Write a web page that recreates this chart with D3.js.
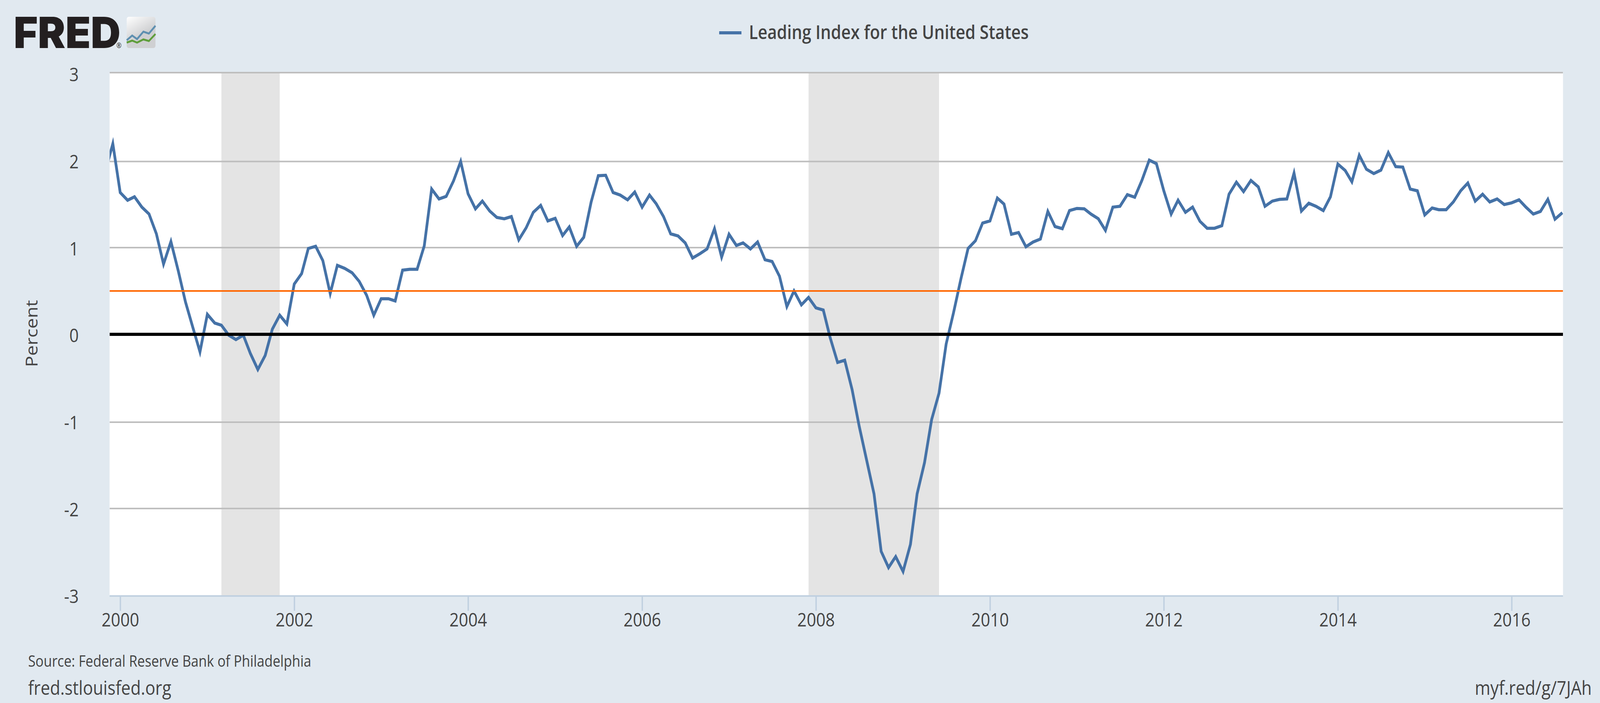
<!DOCTYPE html>
<html>
<head>
<meta charset="utf-8">
<title>Leading Index for the United States</title>
<script src="https://cdn.jsdelivr.net/npm/d3@7"></script>
<style>
  html, body { margin: 0; padding: 0; background: #e1e9f0; overflow: hidden; }
  svg { display: block; width: 100vw; height: 100vh; }
  text { font-family: "Open Sans", sans-serif; fill: #444; }
</style>
</head>
<body>
<div id="chart"></div>
<script>
// monthly values, Nov 1999 to Aug 2016
const firstMonth = new Date(Date.UTC(1999, 10, 1));
const leadingIndex = [
  1.9, 2.2, 1.64, 1.55, 1.59, 1.47, 1.39, 1.16, 0.81, 1.07, 0.73, 0.375, 0.08, -0.2,
  0.23, 0.13, 0.105, -0.01, -0.06, -0.01, -0.22, -0.4, -0.24, 0.06, 0.22, 0.12,
  0.58, 0.7, 0.99, 1.015, 0.85, 0.47, 0.795, 0.76, 0.71, 0.61, 0.45, 0.22,
  0.41, 0.41, 0.385, 0.74, 0.75, 0.75, 1.02, 1.68, 1.565, 1.595, 1.775, 2.0,
  1.625, 1.45, 1.54, 1.425, 1.35, 1.335, 1.36, 1.09, 1.23, 1.41, 1.49, 1.31,
  1.34, 1.14, 1.24, 1.015, 1.12, 1.53, 1.835, 1.84, 1.64, 1.61, 1.555, 1.645,
  1.47, 1.61, 1.51, 1.36, 1.16, 1.135, 1.055, 0.88, 0.93, 0.985, 1.22, 0.89,
  1.155, 1.025, 1.055, 0.985, 1.065, 0.86, 0.84, 0.67, 0.32, 0.5, 0.34, 0.425,
  0.305, 0.28, -0.04, -0.32, -0.295, -0.63, -1.05, -1.44, -1.83, -2.49, -2.675, -2.55,
  -2.72, -2.41, -1.83, -1.47, -0.97, -0.67, -0.11, 0.25, 0.64, 0.99, 1.08, 1.285,
  1.31, 1.575, 1.505, 1.155, 1.175, 1.01, 1.065, 1.1, 1.42, 1.245, 1.22, 1.43,
  1.455, 1.45, 1.39, 1.335, 1.2, 1.47, 1.48, 1.615, 1.585, 1.78, 2.015, 1.975,
  1.66, 1.39, 1.55, 1.41, 1.47, 1.305, 1.225, 1.225, 1.255, 1.62, 1.76, 1.65,
  1.78, 1.705, 1.48, 1.54, 1.56, 1.565, 1.865, 1.425, 1.515, 1.48, 1.43, 1.59,
  1.97, 1.895, 1.765, 2.07, 1.91, 1.86, 1.9, 2.1, 1.94, 1.935, 1.68, 1.66,
  1.38, 1.46, 1.44, 1.44, 1.53, 1.66, 1.75, 1.54, 1.62, 1.53, 1.565, 1.5,
  1.52, 1.555, 1.47, 1.39, 1.42, 1.56, 1.33, 1.405
];
const recessions = [
  [new Date(Date.UTC(2001, 2, 1)), new Date(Date.UTC(2001, 10, 1))],
  [new Date(Date.UTC(2007, 11, 1)), new Date(Date.UTC(2009, 5, 1))]
];
const yTicks = [-3, -2, -1, 0, 1, 2, 3];
const xTickYears = [2000, 2002, 2004, 2006, 2008, 2010, 2012, 2014, 2016];
const targetLevel = 0.5;
const zeroLevel = 0;

// logo sparkline heights
const logoBlue = [30, 24, 28.5, 19, 21.5, 11.5];
const logoGreen = [33, 30.5, 33, 29, 31, 22];
const logoSteps = [0, 0.19, 0.36, 0.58, 0.77, 1];

const width = 4672, height = 1800;
const plot = { left: 320, right: 4564, top: 186, bottom: 1526 };

// the browser window can come up narrower than 4672 (4096 in the sandbox),
// so the drawing is fitted to the window instead of running off its right edge
const svg = d3.select("#chart").append("svg")
  .attr("viewBox", `0 0 ${width} ${height}`)
  .attr("preserveAspectRatio", "none");

svg.append("rect").attr("width", width).attr("height", height).attr("fill", "#e1e9f0");

const defs = svg.append("defs");
defs.append("clipPath").attr("id", "plot-clip").append("rect")
  .attr("x", plot.left)
  .attr("y", plot.top - 2)
  .attr("width", plot.right - plot.left)
  .attr("height", plot.bottom - plot.top + 2);

const iconGrad = defs.append("linearGradient").attr("id", "icon-grad")
  .attr("x1", 0).attr("y1", 0).attr("x2", 0.5).attr("y2", 0.9);
iconGrad.append("stop").attr("offset", 0).attr("stop-color", "#ffffff");
iconGrad.append("stop").attr("offset", 0.75).attr("stop-color", "#cfd0d2");

const x = d3.scaleUtc()
  .domain([new Date(Date.UTC(2000, 0, 1)), new Date(Date.UTC(2016, 0, 1))])
  .range([351, 4414]);

// gridlines were snapped to whole pixels in the original, so the scale follows them
const y = d3.scaleLinear()
  .domain(yTicks)
  .range([1526, 1302, 1081, 856, 634, 413.5, 186]);

const yLabel = d3.scaleLinear().domain([-3, 3]).range([1526.7, 190.7]);

// plot area
svg.append("rect")
  .attr("x", plot.left)
  .attr("y", plot.top)
  .attr("width", plot.right - plot.left)
  .attr("height", plot.bottom - plot.top)
  .attr("fill", "#fff");

const plotArea = svg.append("g").attr("clip-path", "url(#plot-clip)");

plotArea.selectAll(".recession")
  .data(recessions)
  .join("rect")
  .attr("class", "recession")
  .attr("x", d => x(d[0]))
  .attr("width", d => x(d[1]) - x(d[0]))
  .attr("y", plot.top)
  .attr("height", plot.bottom - plot.top)
  .attr("fill", "#e4e4e4");

plotArea.selectAll(".grid")
  .data(yTicks.filter(d => d !== -3))
  .join("line")
  .attr("class", "grid")
  .attr("x1", plot.left)
  .attr("x2", plot.right)
  .attr("y1", d => y(d))
  .attr("y2", d => y(d))
  .attr("stroke", "#bebebe")
  .attr("stroke-width", 4);

const series = leadingIndex.map((value, i) => ({
  date: d3.utcMonth.offset(firstMonth, i),
  value: value
}));

const line = d3.line()
  .x(d => x(d.date))
  .y(d => y(d.value));

plotArea.append("path")
  .datum(series)
  .attr("d", line)
  .attr("fill", "none")
  .attr("stroke", "#4572a7")
  .attr("stroke-width", 8)
  .attr("stroke-linejoin", "miter")
  .attr("stroke-miterlimit", 10);

plotArea.append("line")
  .attr("x1", plot.left).attr("x2", plot.right)
  .attr("y1", y(targetLevel)).attr("y2", y(targetLevel))
  .attr("stroke", "#ff6600")
  .attr("stroke-width", 4);

plotArea.append("line")
  .attr("x1", plot.left).attr("x2", plot.right)
  .attr("y1", y(zeroLevel)).attr("y2", y(zeroLevel))
  .attr("stroke", "#000")
  .attr("stroke-width", 8);

// x axis
const xAxis = d3.axisBottom(x)
  .tickValues(xTickYears.map(d => new Date(Date.UTC(d, 0, 1))))
  .tickFormat(d3.utcFormat("%Y"))
  .tickSize(38)
  .tickPadding(6);

const xAxisG = svg.append("g")
  .attr("transform", `translate(0,${plot.bottom})`)
  .call(xAxis);
xAxisG.select(".domain").remove();
xAxisG.selectAll("line").attr("stroke", "#c0d0e0").attr("stroke-width", 4);
xAxisG.selectAll("text").attr("font-size", 48).attr("fill", "#444");
xAxisG.attr("font-family", null).attr("font-size", null);

svg.append("line")
  .attr("x1", plot.left).attr("x2", plot.right)
  .attr("y1", plot.bottom).attr("y2", plot.bottom)
  .attr("stroke", "#c0d0e0")
  .attr("stroke-width", 4);

// y axis labels
const yAxisG = svg.append("g")
  .attr("transform", `translate(${plot.left},0)`)
  .call(d3.axisLeft(yLabel).tickValues(yTicks).tickSize(0).tickPadding(90));
yAxisG.select(".domain").remove();
yAxisG.selectAll("line").remove();
yAxisG.selectAll("text").attr("font-size", 48).attr("fill", "#444").attr("dy", "0.36em");
yAxisG.attr("font-family", null).attr("font-size", null);
// d3 uses a real minus, FRED uses a hyphen
yAxisG.selectAll("text").text(d => String(d));

svg.append("text")
  .attr("transform", "translate(110,854) rotate(-90)")
  .attr("text-anchor", "middle")
  .attr("font-size", 48)
  .text("Percent");

// legend
svg.append("line")
  .attr("x1", 2100).attr("x2", 2165)
  .attr("y1", 84).attr("y2", 84)
  .attr("stroke", "#4572a7")
  .attr("stroke-width", 8);

svg.append("text")
  .attr("x", 2187)
  .attr("y", 100)
  .attr("font-size", 48)
  .attr("font-weight", 600)
  .text("Leading Index for the United States");

// footer
svg.append("text").attr("x", 82).attr("y", 1707).attr("font-size", 39.5)
  .text("Source: Federal Reserve Bank of Philadelphia");
svg.append("text").attr("x", 82).attr("y", 1779).attr("font-size", 49)
  .text("fred.stlouisfed.org");
svg.append("text").attr("x", 4648).attr("y", 1779).attr("font-size", 49)
  .attr("text-anchor", "end")
  .text("myf.red/g/7JAh");

// logo
svg.append("text")
  .attr("x", 40)
  .attr("y", 123)
  .attr("font-size", 110)
  .attr("font-weight", 900)
  .attr("textLength", 312)
  .attr("lengthAdjust", "spacingAndGlyphs")
  .style("font-family", "Inter, 'Liberation Sans', sans-serif")
  .style("fill", "#231f20")
  .text("FRED");

svg.append("text")
  .attr("x", 340)
  .attr("y", 123)
  .attr("font-size", 18)
  .style("fill", "#231f20")
  .text("®");

const icon = svg.append("g").attr("transform", "translate(370,43)");
icon.append("rect")
  .attr("width", 84).attr("height", 80).attr("rx", 6)
  .attr("fill", "url(#icon-grad)");

const logoX = d3.scaleLinear().domain([0, 1]).range([0, 84]);
const logoY = d3.scaleLinear().domain([0, 40]).range([0, 80]);
const logoLine = d3.line()
  .x((d, i) => logoX(logoSteps[i]))
  .y(d => logoY(d));

icon.append("path").attr("d", logoLine(logoBlue))
  .attr("fill", "none").attr("stroke", "#5e8fb0").attr("stroke-width", 5);
icon.append("path").attr("d", logoLine(logoGreen))
  .attr("fill", "none").attr("stroke", "#5f9e3c").attr("stroke-width", 5);
</script>
</body>
</html>
